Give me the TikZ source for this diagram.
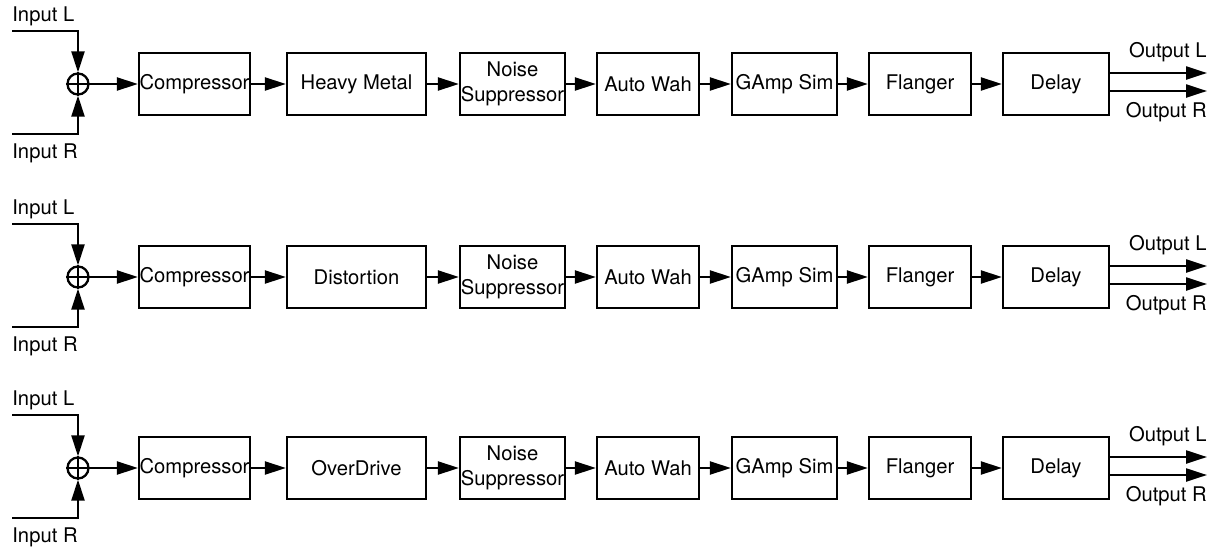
\documentclass[tikz,border=0pt]{standalone}
\usepackage{fontspec}
\setmainfont{TeX Gyre Heros}
\usetikzlibrary{arrows.meta}

\tikzset{
  fxbox/.style={draw, line width=1.3pt, minimum height=1.24cm, inner sep=0pt,
    align=center, font=\fontsize{11.5}{14}\selectfont},
  sig/.style={line width=1.3pt, -{Triangle[length=0.42cm,width=0.26cm]}},
  lbl/.style={inner sep=0pt, font=\fontsize{11.5}{13}\selectfont},
}

\begin{document}
\begin{tikzpicture}[x=0.02cm,y=-0.02cm]
    \useasboundingbox (0,0) rectangle (1218,548);

    \foreach \r/\yc/\drive in {1/84/Heavy Metal, 2/277/Distortion, 3/468/OverDrive}{
        % Summing point for the two inputs
        \node[draw, circle, line width=1.3pt, minimum size=0.42cm, inner sep=0pt] (sum\r) at (78,\yc) {};
        \draw[line width=1.2pt] (sum\r.north) -- (sum\r.south) (sum\r.west) -- (sum\r.east);

        % Inputs
        \coordinate (inL\r) at (12,\yc-53);
        \coordinate (inR\r) at (12,\yc+50);
        \node[lbl, anchor=west] (inLtxt\r) at (12,\yc-68) {Input L};
        \node[lbl, anchor=west] (inRtxt\r) at (12,\yc+69) {Input R};
        \draw[sig] (inL\r) -| (sum\r.north);
        \draw[sig] (inR\r) -| (sum\r.south);

        % Effect chain
        \node[fxbox, minimum width=2.22cm] (comp\r)  at (194.5,\yc) {Compressor};
        \node[fxbox, minimum width=2.78cm] (drive\r) at (356.5,\yc) {\drive};
        \node[fxbox, minimum width=2.10cm] (noise\r) at (512.5,\yc) {Noise\\Suppressor};
        \node[fxbox, minimum width=2.04cm] (wah\r)   at (648,\yc)   {Auto Wah};
        \node[fxbox, minimum width=2.10cm] (gamp\r)  at (784.5,\yc) {GAmp Sim};
        \node[fxbox, minimum width=2.04cm] (flng\r)  at (920,\yc)   {Flanger};
        \node[fxbox, minimum width=2.12cm] (delay\r) at (1056,\yc)  {Delay};

        \draw[sig] (sum\r.east) -- (comp\r.west);
        \draw[sig] (comp\r) -- (drive\r);
        \draw[sig] (drive\r) -- (noise\r);
        \draw[sig] (noise\r) -- (wah\r);
        \draw[sig] (wah\r) -- (gamp\r);
        \draw[sig] (gamp\r) -- (flng\r);
        \draw[sig] (flng\r) -- (delay\r);

        % Outputs
        \coordinate (outL\r) at (1207,\yc-11);
        \coordinate (outR\r) at (1207,\yc+7);
        \draw[sig] (delay\r.east |- outL\r) -- (outL\r);
        \draw[sig] (delay\r.east |- outR\r) -- (outR\r);
        \node[lbl, anchor=east] (outLtxt\r) at (1207,\yc-32) {Output L};
        \node[lbl, anchor=east] (outRtxt\r) at (1207,\yc+28) {Output R};
    }
\end{tikzpicture}
\end{document}
